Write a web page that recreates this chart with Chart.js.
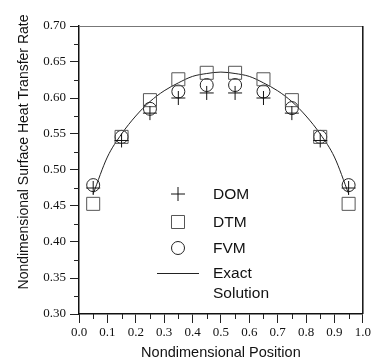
<!DOCTYPE html>
<html>
<head>
<meta charset="utf-8">
<script src="https://cdn.jsdelivr.net/npm/chart.js@4.4.1/dist/chart.umd.min.js"></script>
<style>
  html, body { margin: 0; padding: 0; background: #fff; }
  #wrap { width: 373px; height: 359px; }
</style>
</head>
<body>
<div id="wrap"><canvas id="chart" width="373" height="359"></canvas></div>
<script>
// Sample positions and the three numerical methods
const positions = [0.05, 0.15, 0.25, 0.35, 0.45, 0.55, 0.65, 0.75, 0.85, 0.95];
const domValues = [0.475, 0.541, 0.579, 0.600, 0.607, 0.607, 0.600, 0.579, 0.541, 0.475];
const dtmValues = [0.453, 0.546, 0.597, 0.626, 0.635, 0.635, 0.626, 0.597, 0.546, 0.453];
const fvmValues = [0.479, 0.546, 0.585, 0.609, 0.618, 0.618, 0.609, 0.586, 0.546, 0.479];

// Exact solution
const exactX = [0.05, 0.10, 0.15, 0.20, 0.25, 0.30, 0.35, 0.40, 0.45, 0.50, 0.55, 0.60, 0.65, 0.70, 0.75, 0.80, 0.85, 0.90, 0.95];
const exactY = [0.467, 0.518, 0.550, 0.575, 0.595, 0.610, 0.621, 0.630, 0.634, 0.636, 0.634, 0.630, 0.621, 0.610, 0.595, 0.575, 0.550, 0.518, 0.467];

const xTicks = [0, 0.1, 0.2, 0.3, 0.4, 0.5, 0.6, 0.7, 0.8, 0.9, 1.0];
const yTicks = [0.30, 0.35, 0.40, 0.45, 0.50, 0.55, 0.60, 0.65, 0.70];
const xMinor = [0.05, 0.15, 0.25, 0.35, 0.45, 0.55, 0.65, 0.75, 0.85, 0.95];
const yMinor = [0.325, 0.375, 0.425, 0.475, 0.525, 0.575, 0.625, 0.675];

const legendLabels = ['DOM', 'DTM', 'FVM', ['Exact', 'Solution']];
const yTitle = 'Nondimensional Surface Heat Transfer Rate';
const xTitle = 'Nondimensional Position';

const toPoints = (xs, ys) => xs.map((x, i) => ({ x: x, y: ys[i] }));

const serif = '"Liberation Serif", "Times New Roman", serif';
const sans = '"Liberation Sans", Arial, sans-serif';

// minor ticks, top/right frame and the y title
const framePlugin = {
    id: 'frame',
    afterDraw(chart) {
        const { ctx, chartArea: a, scales } = chart;
        ctx.save();
        ctx.strokeStyle = '#222';
        ctx.lineWidth = 1;
        ctx.beginPath();
        xMinor.forEach(v => {
            const px = Math.round(scales.x.getPixelForValue(v)) + 0.5;
            ctx.moveTo(px, a.bottom);
            ctx.lineTo(px, a.bottom + 5);
        });
        yMinor.forEach(v => {
            const py = Math.round(scales.y.getPixelForValue(v)) + 0.5;
            ctx.moveTo(a.left, py);
            ctx.lineTo(a.left - 5, py);
        });
        ctx.stroke();

        ctx.strokeStyle = '#777';
        ctx.beginPath();
        ctx.moveTo(a.left, a.top + 0.5);
        ctx.lineTo(a.right, a.top + 0.5);
        ctx.stroke();
        ctx.strokeStyle = '#111';
        ctx.lineWidth = 1.5;
        ctx.beginPath();
        ctx.moveTo(a.right, a.top);
        ctx.lineTo(a.right, a.bottom);
        ctx.stroke();

        // y title sits a bit above the axis centre in the original
        ctx.translate(24, 152);
        ctx.rotate(-Math.PI / 2);
        ctx.font = '14px ' + sans;
        ctx.fillStyle = '#111';
        ctx.textAlign = 'center';
        ctx.textBaseline = 'middle';
        ctx.fillText(yTitle, 0, 0);
        ctx.restore();
    }
};

// legend drawn inside the plot, in a column
const legendPlugin = {
    id: 'innerLegend',
    afterDraw(chart) {
        const { ctx } = chart;
        const symX = 178;
        const textX = 213;
        const rows = [194, 222, 248, 273];
        ctx.save();
        ctx.font = '15.5px ' + sans;
        ctx.textBaseline = 'middle';
        ctx.textAlign = 'left';
        chart.data.datasets.forEach((ds, i) => {
            const y = rows[i];
            ctx.strokeStyle = ds.borderColor;
            if (ds.pointRadius > 0) {
                ctx.fillStyle = 'rgba(0,0,0,0)';
                ctx.lineWidth = ds.borderWidth;
                Chart.helpers.drawPoint(ctx, {
                    pointStyle: ds.pointStyle,
                    radius: ds.pointRadius,
                    borderWidth: ds.borderWidth,
                    rotation: 0
                }, symX, y);
            } else {
                ctx.lineWidth = 1;
                ctx.beginPath();
                ctx.moveTo(157, y + 0.5);
                ctx.lineTo(199, y + 0.5);
                ctx.stroke();
            }
            ctx.fillStyle = '#111';
            const label = legendLabels[i];
            if (Array.isArray(label)) {
                label.forEach((t, j) => ctx.fillText(t, textX, y + 0.5 + j * 20));
            } else {
                ctx.fillText(label, textX, y + 0.5);
            }
        });
        ctx.restore();
    }
};

new Chart(document.getElementById('chart').getContext('2d'), {
    type: 'scatter',
    data: {
        datasets: [
            {
                label: 'DOM',
                data: toPoints(positions, domValues),
                pointStyle: 'cross',
                pointRadius: 7,
                borderColor: '#111',
                backgroundColor: 'rgba(0,0,0,0)',
                borderWidth: 1
            },
            {
                label: 'DTM',
                data: toPoints(positions, dtmValues),
                pointStyle: 'rect',
                pointRadius: 9.2,
                borderColor: '#555',
                backgroundColor: 'rgba(0,0,0,0)',
                borderWidth: 1
            },
            {
                label: 'FVM',
                data: toPoints(positions, fvmValues),
                pointStyle: 'circle',
                pointRadius: 6.5,
                borderColor: '#222',
                backgroundColor: 'rgba(0,0,0,0)',
                borderWidth: 1
            },
            {
                label: 'Exact Solution',
                type: 'line',
                data: toPoints(exactX, exactY),
                showLine: true,
                pointRadius: 0,
                borderColor: '#222',
                borderWidth: 1,
                cubicInterpolationMode: 'monotone',
                fill: false
            }
        ]
    },
    options: {
        responsive: false,
        animation: false,
        events: [],
        layout: { padding: { top: 26, right: 8, left: 0, bottom: 0 } },
        plugins: {
            legend: { display: false },
            tooltip: { enabled: false }
        },
        scales: {
            x: {
                type: 'linear',
                min: 0,
                max: 1,
                afterFit: s => { s.height = 45; },
                afterBuildTicks: s => { s.ticks = xTicks.map(v => ({ value: v })); },
                ticks: {
                    color: '#111',
                    padding: 2,
                    maxRotation: 0,
                    font: { family: serif, size: 13 },
                    callback: v => v.toFixed(1)
                },
                grid: { drawOnChartArea: false, tickLength: 9, color: '#222', tickWidth: 1 },
                border: { display: true, color: '#111', width: 1.5 },
                title: {
                    display: true,
                    text: xTitle,
                    color: '#111',
                    font: { family: sans, size: 14.5 },
                    padding: { top: 0, bottom: -3 }
                }
            },
            y: {
                type: 'linear',
                min: 0.3,
                max: 0.7,
                afterFit: s => { s.width = 79; },
                afterBuildTicks: s => { s.ticks = yTicks.map(v => ({ value: v })); },
                ticks: {
                    color: '#111',
                    padding: 4,
                    font: { family: serif, size: 13 },
                    callback: v => v.toFixed(2)
                },
                grid: { drawOnChartArea: false, tickLength: 9, color: '#222', tickWidth: 1 },
                border: { display: true, color: '#111', width: 1.5 }
            }
        }
    },
    plugins: [framePlugin, legendPlugin]
});
</script>
</body>
</html>
